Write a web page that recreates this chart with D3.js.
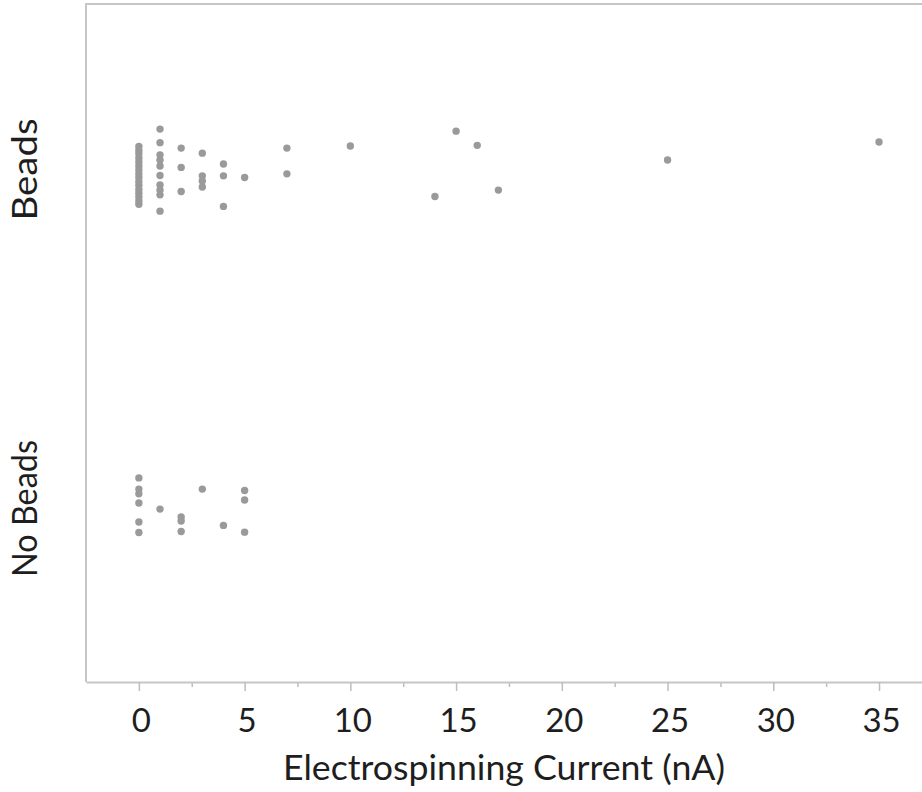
<!DOCTYPE html>
<html>
<head>
<meta charset="utf-8">
<script src="https://cdn.jsdelivr.net/npm/d3@7"></script>
<style>
  html, body { margin: 0; padding: 0; background: #fff; }
  svg { display: block; }
  text { font-family: Lato, "Open Sans", sans-serif; fill: #1e1e1e; }
</style>
</head>
<body>
<svg id="chart" width="922" height="792"></svg>
<script>
// ---- data ----
const categories = ["No Beads", "Beads"];          // category index 0, 1
const xTickValues = [0, 5, 10, 15, 20, 25, 30, 35];
const xMinorTicks = [2.5, 7.5, 12.5, 17.5, 22.5, 27.5, 32.5, 37.5];
const xTitle = "Electrospinning Current (nA)";

// Beads: current (nA) and vertical jitter (category units)
const beadsCurrent = [
  0,0,0,0,0,0,0,0,0,0,0,0,0,0,0,0,
  1,1,1,1,1,1,1,1,1,1,
  2,2,2,
  3,3,3,3,
  4,4,4,
  5,
  7,7,
  10,14,15,16,17,25,35
];
const beadsJitter = [
  0.080,0.068,0.058,0.046,0.034,0.022,0.010,-0.001,-0.012,-0.024,-0.035,-0.047,-0.058,-0.069,-0.081,-0.091,
  0.131,0.091,0.055,0.040,0.022,-0.006,-0.034,-0.049,-0.063,-0.111,
  0.075,0.018,-0.053,
  0.060,-0.007,-0.022,-0.040,
  0.028,-0.007,-0.097,
  -0.012,
  0.075,-0.001,
  0.081,-0.068,0.125,0.083,-0.049,0.040,0.093
];

// No Beads
const noBeadsCurrent = [0,0,0,0,0,0, 1, 2,2,2, 3, 4, 5,5,5];
const noBeadsJitter  = [0.102,0.069,0.055,0.028,-0.028,-0.059, 0.010, -0.013,-0.025,-0.056, 0.069, -0.038, 0.065,0.037,-0.058];

// ---- build ----
const svg = d3.select("#chart");
const mLeft = 86, mTop = 4, mBottom = 682;

const x = d3.scaleLinear().domain([-2.5, 37.5]).range([mLeft, 931.9]);
const y = d3.scaleLinear().domain([-0.5, 1.5]).range([mBottom, mTop]);

const points = [];
beadsCurrent.forEach((v, i) => points.push({cat: 1, x: v, j: beadsJitter[i]}));
noBeadsCurrent.forEach((v, i) => points.push({cat: 0, x: v, j: noBeadsJitter[i]}));

// frame (left + top)
svg.append("line").attr("x1", mLeft).attr("x2", mLeft).attr("y1", mTop - 1).attr("y2", mBottom)
  .attr("stroke", "#c6c6c6").attr("stroke-width", 2);
svg.append("line").attr("x1", mLeft - 1).attr("x2", 922).attr("y1", mTop).attr("y2", mTop)
  .attr("stroke", "#c6c6c6").attr("stroke-width", 2);

// minor ticks
const minorAxis = svg.append("g").attr("transform", `translate(0,${mBottom})`)
  .call(d3.axisBottom(x).tickValues(xMinorTicks).tickSize(5).tickSizeOuter(0).tickFormat(""));
minorAxis.select(".domain").remove();
minorAxis.selectAll(".tick line").attr("stroke", "#bdbdbd").attr("stroke-width", 1.5);

// major axis
const xAxis = svg.append("g").attr("transform", `translate(0,${mBottom})`)
  .call(d3.axisBottom(x).tickValues(xTickValues).tickSize(9).tickSizeOuter(0).tickPadding(0));
xAxis.select(".domain").attr("stroke", "#c6c6c6").attr("stroke-width", 2);
xAxis.selectAll(".tick line").attr("stroke", "#bdbdbd").attr("stroke-width", 1.5);
xAxis.selectAll(".tick text")
  .attr("y", 50).attr("dy", null).attr("dx", 2)
  .style("font-size", "33px").style("font-family", "Lato, sans-serif").attr("fill", "#222");

// axis title
svg.append("text").attr("x", 504).attr("y", 780).attr("text-anchor", "middle")
  .style("font-size", "34px").attr("textLength", 442).attr("lengthAdjust", "spacingAndGlyphs")
  .text(xTitle);

// category labels
const labelLengths = [137, 102];
categories.forEach((c, i) => {
  const cy = y(i) - 4;
  svg.append("text")
    .attr("transform", `translate(37,${cy}) rotate(-90)`)
    .attr("text-anchor", "middle")
    .style("font-size", "34px")
    .attr("textLength", labelLengths[i]).attr("lengthAdjust", "spacingAndGlyphs")
    .text(c);
});

// points
svg.append("g").selectAll("circle").data(points).join("circle")
  .attr("cx", d => x(d.x))
  .attr("cy", d => y(d.cat + d.j))
  .attr("r", 3.7)
  .attr("fill", "#9a9a9a");
</script>
</body>
</html>
